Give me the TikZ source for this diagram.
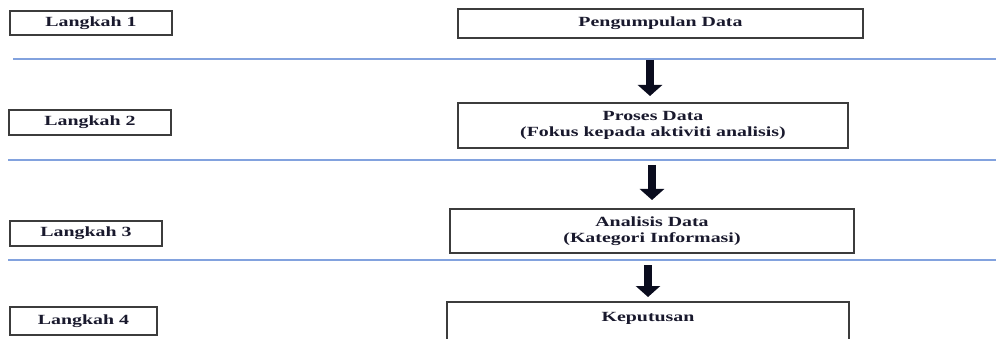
\documentclass[tikz,border=0pt]{standalone}
\usepackage{fontspec}
\setmainfont[FakeStretch=1.42]{Liberation Serif}
\usetikzlibrary{arrows.meta}
\definecolor{rule}{RGB}{130,162,222}
\definecolor{boxline}{RGB}{60,60,60}
\definecolor{ink}{RGB}{25,25,45}
\definecolor{arrowfill}{RGB}{10,12,30}
\tikzset{
  stepbox/.style={draw=boxline, line width=1.6pt, inner sep=0pt, text=ink,
    font=\fontsize{14}{16.5}\selectfont\bfseries, align=center},
  rulebar/.style={draw=rule, line width=2pt},
  bigarrow/.style={draw=arrowfill, line width=8pt,
    -{Triangle[length=11pt 0 0, width=24pt 0 0]}}
}
\begin{document}
\begin{tikzpicture}[x=1pt,y=-1pt]
\useasboundingbox[fill=white] (0,0) rectangle (996,339);
\clip (0,0) rectangle (996,339);
% left step labels
\node[stepbox, minimum width=162pt, minimum height=24pt] (l1) at (91,23) {Langkah 1};
\node[stepbox, minimum width=162pt, minimum height=25pt] (l2) at (90,122.5) {Langkah 2};
\node[stepbox, minimum width=152pt, minimum height=25pt] (l3) at (86,233.5) {Langkah 3};
\node[stepbox, minimum width=147pt, minimum height=28pt] (l4) at (83.5,321) {Langkah 4};
% separators
\coordinate (r1a) at (13,59);  \coordinate (r1b) at (996,59);
\coordinate (r2a) at (8,160.5); \coordinate (r2b) at (996,160.5);
\coordinate (r3a) at (8,260);  \coordinate (r3b) at (996,260);
\draw[rulebar] (r1a) -- (r1b);
\draw[rulebar] (r2a) -- (r2b);
\draw[rulebar] (r3a) -- (r3b);
% process boxes
\node[stepbox, minimum width=405pt, minimum height=29pt] (p1) at (660.5,23.5) {Pengumpulan Data};
\node[stepbox, minimum width=390pt, minimum height=45pt] (p2) at (653,125.5) {Proses Data\\(Fokus kepada aktiviti analisis)};
\node[stepbox, minimum width=404pt, minimum height=44pt] (p3) at (652,231) {Analisis Data\\(Kategori Informasi)};
\node[stepbox, draw=none, minimum width=400pt, minimum height=30pt] (p4) at (648,318) {Keputusan};
\draw[boxline, line width=1.6pt] ([yshift=-40pt]p4.south west) -- (p4.north west) -- (p4.north east) -- ([yshift=-40pt]p4.south east);
% arrows
\coordinate (s1) at (650,60);  \coordinate (e1) at (650,96);
\coordinate (s2) at (652,165); \coordinate (e2) at (652,200);
\coordinate (s3) at (648,265); \coordinate (e3) at (648,297);
\draw[bigarrow] (s1) -- (e1);
\draw[bigarrow] (s2) -- (e2);
\draw[bigarrow] (s3) -- (e3);
\end{tikzpicture}
\end{document}
